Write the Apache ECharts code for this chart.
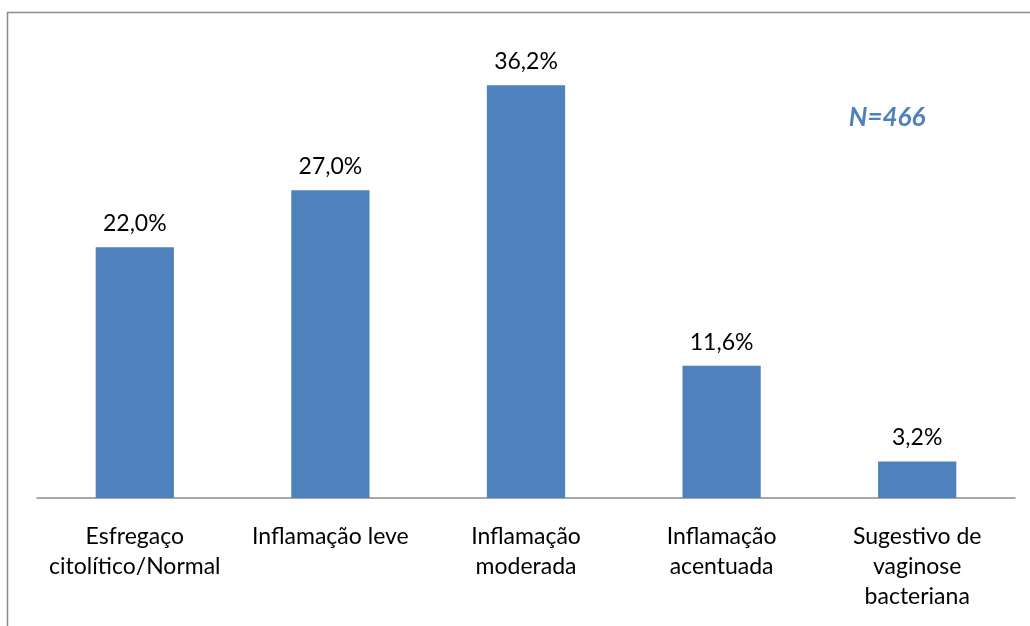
<!DOCTYPE html>
<html>
<head>
<meta charset="utf-8">
<script src="https://cdn.jsdelivr.net/npm/echarts@6/dist/echarts.min.js"></script>
<style>html,body{margin:0;padding:0;background:#fff}#c{width:1030px;height:626px}</style>
</head>
<body>
<div id="c"></div>
<script>
const categories = ["Esfregaço\ncitolítico/Normal", "Inflamação leve", "Inflamação\nmoderada", "Inflamação\nacentuada", "Sugestivo de\nvaginose\nbacteriana"];
const values = [22.0, 27.0, 36.2, 11.6, 3.2];
const annotation = "N=466";

const chart = echarts.init(document.getElementById('c'), null, {renderer: 'canvas'});
const FONT = 'Lato, "Open Sans", sans-serif';
chart.setOption({
  animation: false,
  backgroundColor: '#fff',
  grid: {left: 37, right: 15, top: 42, bottom: 128},
  xAxis: {
    type: 'category',
    data: categories,
    axisLine: {lineStyle: {color: '#8c8c8c', width: 1.5}},
    axisTick: {show: false},
    axisLabel: {color: '#000', fontSize: 23, fontFamily: FONT, lineHeight: 30, margin: 24, interval: 0}
  },
  yAxis: {
    type: 'value', min: 0, max: 40, show: false,
    splitLine: {show: false}
  },
  series: [{
    type: 'bar',
    data: values,
    barWidth: '40%',
    itemStyle: {color: '#4F81BD'},
    label: {
      show: true, position: 'top', distance: 12,
      color: '#000', fontSize: 23, fontFamily: FONT,
      formatter: p => p.value.toFixed(1).replace('.', ',') + '%'
    }
  }],
  graphic: [
    {type: 'polyline', shape: {points: [[7.5, 640], [7.5, 12.5], [1040, 12.5]]},
     style: {stroke: '#8c8c8c', lineWidth: 1.5, fill: null}},
    {type: 'text', x: 887, y: 118,
     style: {text: annotation, fill: '#4F81BD', font: 'italic bold 26px ' + FONT, align: 'center', verticalAlign: 'middle'}}
  ]
});
</script>
</body>
</html>
